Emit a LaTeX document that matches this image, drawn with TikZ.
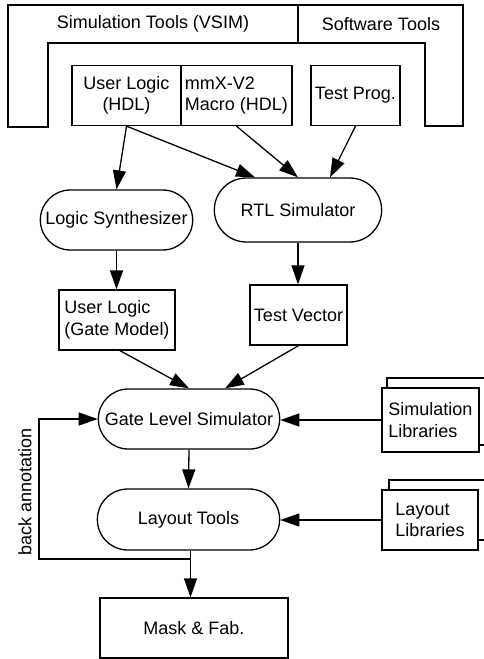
\documentclass[tikz,border=0pt]{standalone}
\usepackage{fontspec}
\setmainfont{Liberation Sans}
\usetikzlibrary{arrows.meta,shapes.misc,calc}

\begin{document}
\begin{tikzpicture}[x=1pt,y=-1pt,font=\fontsize{18}{21.5}\selectfont]

\def\lw{1.3pt}
\tikzstyle{block} = [
	draw, fill=white, rectangle, line width=\lw, inner sep=2pt,
	minimum height=60pt ];
\tikzstyle{tool} = [
	draw, fill=white, rounded rectangle, line width=\lw,
	minimum height=60pt ];
\tikzstyle{arr} = [line width=\lw, -{Triangle[length=19pt,width=13pt]}];
\tikzstyle{libback} = [draw, line width=\lw];
\useasboundingbox (0,0) rectangle (483,659);

% tool frame
\draw[line width=\lw] (8,5) -- (463,5) -- (463,126) -- (425,126) -- (425,43)
	-- (48,43) -- (48,127) -- (8,127) -- cycle;
\draw[line width=\lw] (298,5) -- (298,43);
\node (sim) at (153,24) {Simulation Tools (VSIM)};
\node (sw) at (381,24) {Software Tools};

% sources
\node[block,minimum width=109pt,align=center] (ul) at (126.5,95.5) {User Logic\\(HDL)};
\node[block,minimum width=111pt,align=left] (mac) at (236.5,95.5) {mmX-V2\\Macro (HDL)};
\node[block,minimum width=89pt] (tp) at (355.5,95.5) {Test Prog.};

% tools and results
\node[tool,minimum width=159pt] (ls) at (116.5,220) {Logic Synthesizer};
\node[tool,minimum width=174pt,minimum height=64pt] (rtl) at (298,210) {RTL Simulator};
\node[block,minimum width=116pt,align=left] (ulg) at (117,320) {User Logic\\(Gate Model)};
\node[block,minimum width=97pt] (tv) at (298.5,315) {Test Vector};
\node[tool,minimum width=188pt] (gls) at (189,419) {Gate Level Simulator};
\node[tool,minimum width=189pt,minimum height=61pt] (lt) at (188.5,519.5) {Layout Tools};
\node[block,minimum width=188pt] (mf) at (194,628) {Mask \& Fab.};

% libraries
\draw[libback] (387,378) rectangle (486,445);
\node[block,minimum width=97pt,minimum height=64pt,align=left] (sl) at (430.5,420) {Simulation\\Libraries};
\draw[libback] (389,480) rectangle (486,540);
\node[block,minimum width=96pt,align=left] (ll) at (430,520) {Layout\\Libraries};

\draw[arr] (ul.south) -- (ls.north);
\draw[arr] (ul.south) -- ($(rtl.north)+(-43,0)$);
\draw[arr] (mac.south) -- (rtl.north);
\draw[arr] (tp.south) -- ($(rtl.north)+(32,0)$);
\draw[arr] (ls.south) -- (ls.south |- ulg.north);
\draw[arr] (rtl.south) -- (rtl.south |- tv.north);
\draw[arr] ($(ulg.south)+(3,0)$) -- (gls.north);
\draw[arr] (tv.south) -- ($(gls.north)+(36,0)$);
\draw[arr] (sl.west) -- (sl.west -| gls.east);
\draw[arr] (gls.south) -- (lt.north);
\draw[arr] (ll.west) -- (ll.west -| lt.east);
\draw[arr] ($(lt.south)+(2,0)$) -- ($(lt.south |- mf.north)+(2,0)$);

% back annotation
\coordinate (bk) at (39,559);
\draw[arr] ($(bk -| lt.south)+(2,0)$) -- (bk) |- (gls.west);
\node[rotate=90] (ba) at (25,492) {back annotation};

\end{tikzpicture}
\end{document}
